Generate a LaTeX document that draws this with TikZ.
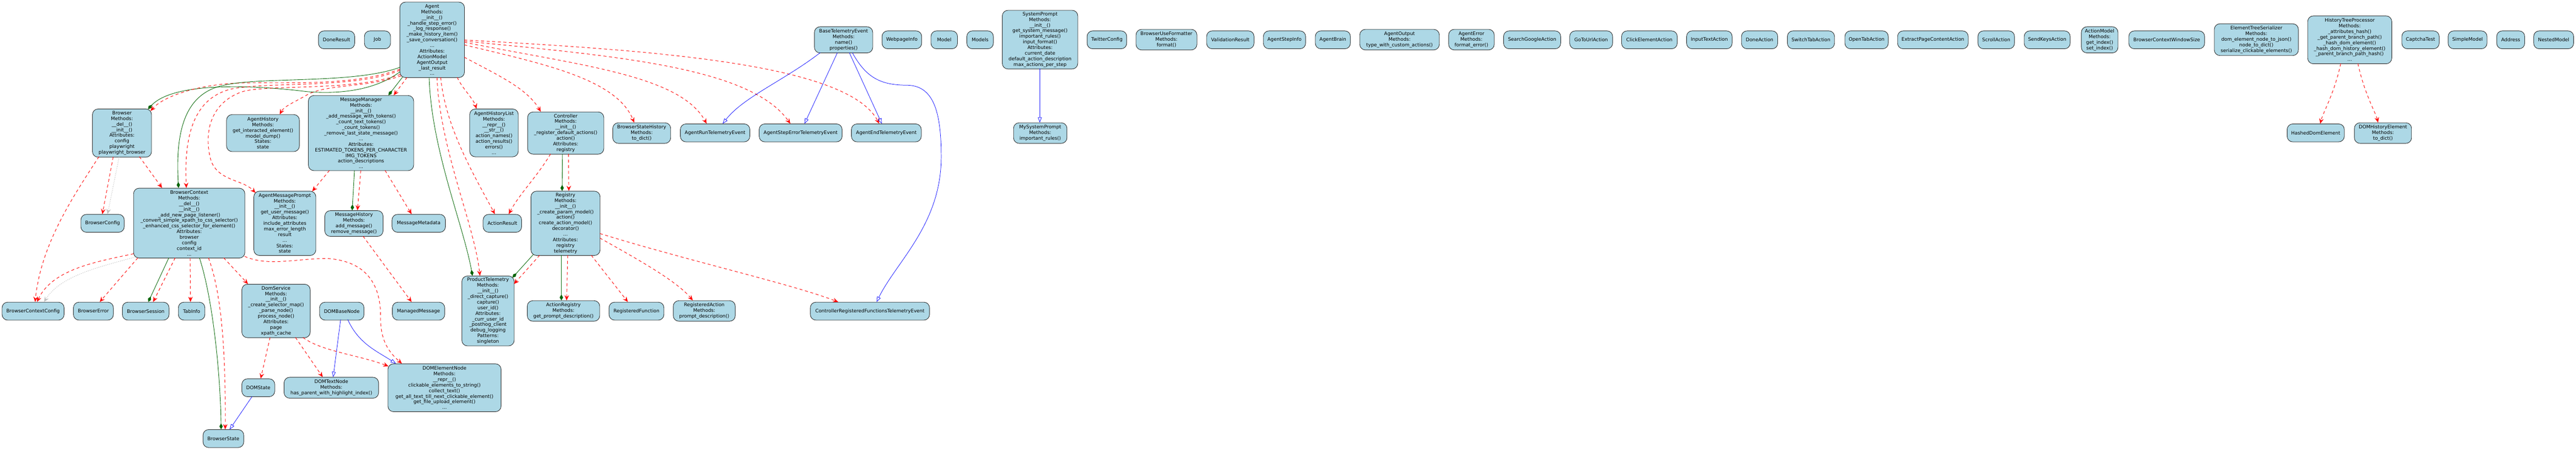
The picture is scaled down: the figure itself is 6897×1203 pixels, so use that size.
\documentclass[tikz,border=0pt]{standalone}
\usepackage{fontspec}
\setmainfont{DejaVu Sans}
\usetikzlibrary{arrows.meta,calc}
\definecolor{lb}{HTML}{ADD8E6}
\definecolor{dkg}{HTML}{006400}
\definecolor{sil}{HTML}{C0C0C0}
\tikzset{
  cls/.style={draw=black!85, line width=1.2pt, fill=lb, rounded corners=15pt, align=center,
    inner sep=0pt, anchor=north west, font=\fontsize{12.8}{15}\selectfont},
  dep/.style={draw=red, line width=1.3pt, dash pattern=on 8pt off 7pt,
    -{Stealth[length=14pt,width=12pt,inset=5pt]}},
  gdep/.style={draw=sil, line width=1.3pt, dash pattern=on 2pt off 3pt,
    -{Stealth[length=14pt,width=12pt,inset=5pt]}},
  comp/.style={draw=dkg, line width=1.2pt, -{Diamond[length=16pt,width=9pt]}},
  inh/.style={draw=blue, line width=1pt, -{Triangle[open,length=14pt,width=10pt]}},
}
\begin{document}
\begin{tikzpicture}[x=1pt,y=-1pt]
\fill[white] (0,0) rectangle (6897,1203);
\useasboundingbox (0,0) rectangle (6897,1203);
% ---------- row 1 ----------
\node[cls, minimum width=97pt, minimum height=48pt] (doneresult) at (852,82) {DoneResult};
\node[cls, minimum width=70pt, minimum height=48pt] (job) at (975,82) {Job};
\node[cls, minimum width=173pt, minimum height=202pt] (agent) at (1070,5) {Agent\\Methods:\\\_\_init\_\_()\\\_handle\_step\_error()\\\_log\_response()\\\_make\_history\_item()\\\_save\_conversation()\\...\\Attributes:\\ActionModel\\AgentOutput\\\_last\_result\\...};
\node[cls, minimum width=156pt, minimum height=70pt] (bte) at (2180,71) {BaseTelemetryEvent\\Methods:\\name()\\properties()};
\node[cls, minimum width=106pt, minimum height=48pt] (webpageinfo) at (2361,82) {WebpageInfo};
\node[cls, minimum width=71pt, minimum height=48pt] (model) at (2492,82) {Model};
\node[cls, minimum width=71pt, minimum height=48pt] (models) at (2588,82) {Models};
\node[cls, minimum width=202pt, minimum height=157pt] (sp) at (2683,27) {SystemPrompt\\Methods:\\\_\_init\_\_()\\get\_system\_message()\\important\_rules()\\input\_format()\\Attributes:\\current\_date\\default\_action\_description\\max\_actions\_per\_step};
\node[cls, minimum width=106pt, minimum height=48pt] (twitter) at (2910,82) {TwitterConfig};
\node[cls, minimum width=163pt, minimum height=55pt] (buf) at (3041,78) {BrowserUseFormatter\\Methods:\\format()};
\node[cls, minimum width=127pt, minimum height=48pt] (valres) at (3230,82) {ValidationResult};
\node[cls, minimum width=113pt, minimum height=48pt] (stepinfo) at (3382,82) {AgentStepInfo};
\node[cls, minimum width=94pt, minimum height=48pt] (brain) at (3521,82) {AgentBrain};
\node[cls, minimum width=213pt, minimum height=55pt] (aout) at (3640,78) {AgentOutput\\Methods:\\type\_with\_custom\_actions()};
\node[cls, minimum width=122pt, minimum height=55pt] (aerr) at (3878,78) {AgentError\\Methods:\\format\_error()};
\node[cls, minimum width=153pt, minimum height=48pt] (sga) at (4025,82) {SearchGoogleAction};
\node[cls, minimum width=115pt, minimum height=48pt] (gtu) at (4202,82) {GoToUrlAction};
\node[cls, minimum width=149pt, minimum height=48pt] (cea) at (4341,82) {ClickElementAction};
\node[cls, minimum width=122pt, minimum height=48pt] (ita) at (4515,82) {InputTextAction};
\node[cls, minimum width=97pt, minimum height=48pt] (donea) at (4662,82) {DoneAction};
\node[cls, minimum width=126pt, minimum height=48pt] (sta) at (4785,82) {SwitchTabAction};
\node[cls, minimum width=116pt, minimum height=48pt] (ota) at (4939,82) {OpenTabAction};
\node[cls, minimum width=189pt, minimum height=48pt] (epca) at (5080,82) {ExtractPageContentAction};
\node[cls, minimum width=98pt, minimum height=48pt] (scra) at (5295,82) {ScrollAction};
\node[cls, minimum width=123pt, minimum height=48pt] (ska) at (5419,82) {SendKeysAction};
\node[cls, minimum width=98pt, minimum height=70pt] (amodel) at (5572,71) {ActionModel\\Methods:\\get\_index()\\set\_index()};
\node[cls, minimum width=203pt, minimum height=48pt] (bcws) at (5699,82) {BrowserContextWindowSize};
\node[cls, minimum width=225pt, minimum height=85pt] (ets) at (5928,63) {ElementTreeSerializer\\Methods:\\dom\_element\_node\_to\_json()\\node\_to\_dict()\\serialize\_clickable\_elements()};
\node[cls, minimum width=225pt, minimum height=128pt] (htp) at (6178,42) {HistoryTreeProcessor\\Methods:\\\_attributes\_hash()\\\_get\_parent\_branch\_path()\\\_hash\_dom\_element()\\\_hash\_dom\_history\_element()\\\_parent\_branch\_path\_hash()\\...};
\node[cls, minimum width=100pt, minimum height=48pt] (captcha) at (6430,82) {CaptchaTest};
\node[cls, minimum width=104pt, minimum height=48pt] (simple) at (6554,82) {SimpleModel};
\node[cls, minimum width=75pt, minimum height=48pt] (address) at (6684,82) {Address};
\node[cls, minimum width=107pt, minimum height=48pt] (nested) at (6783,82) {NestedModel};
% ---------- row 2 ----------
\node[cls, minimum width=158pt, minimum height=129pt] (browser) at (247,291) {Browser\\Methods:\\\_\_del\_\_()\\\_\_init\_\_()\\Attributes:\\config\\playwright\\playwright\_browser};
\node[cls, minimum width=195pt, minimum height=99pt] (ahist) at (606,306) {AgentHistory\\Methods:\\get\_interacted\_element()\\model\_dump()\\States:\\state};
\node[cls, minimum width=282pt, minimum height=201pt] (mm) at (825,255) {MessageManager\\Methods:\\\_\_init\_\_()\\\_add\_message\_with\_tokens()\\\_count\_text\_tokens()\\\_count\_tokens()\\\_remove\_last\_state\_message()\\...\\Attributes:\\ESTIMATED\_TOKENS\_PER\_CHARACTER\\IMG\_TOKENS\\action\_descriptions\\...};
\node[cls, minimum width=130pt, minimum height=128pt] (ahl) at (1257,291) {AgentHistoryList\\Methods:\\\_\_repr\_\_()\\\_\_str\_\_()\\action\_names()\\action\_results()\\errors()\\...};
\node[cls, minimum width=204pt, minimum height=113pt] (ctrl) at (1412,299) {Controller\\Methods:\\\_\_init\_\_()\\\_register\_default\_actions()\\action()\\Attributes:\\registry};
\node[cls, minimum width=155pt, minimum height=55pt] (bsh) at (1640,328) {BrowserStateHistory\\Methods:\\to\_dict()};
\node[cls, minimum width=186pt, minimum height=48pt] (arte) at (1821,331) {AgentRunTelemetryEvent};
\node[cls, minimum width=222pt, minimum height=48pt] (asete) at (2032,331) {AgentStepErrorTelemetryEvent};
\node[cls, minimum width=187pt, minimum height=48pt] (aete) at (2279,331) {AgentEndTelemetryEvent};
\node[cls, minimum width=143pt, minimum height=55pt] (mysp) at (2713,328) {MySystemPrompt\\Methods:\\important\_rules()};
\node[cls, minimum width=153pt, minimum height=48pt] (hde) at (6123,331) {HashedDomElement};
\node[cls, minimum width=153pt, minimum height=55pt] (dhe) at (6303,328) {DOMHistoryElement\\Methods:\\to\_dict()};
% ---------- row 3 ----------
\node[cls, minimum width=116pt, minimum height=48pt] (bconfig) at (216,573) {BrowserConfig};
\node[cls, minimum width=298pt, minimum height=187pt] (bc) at (357,503) {BrowserContext\\Methods:\\\_\_del\_\_()\\\_\_init\_\_()\\\_add\_new\_page\_listener()\\\_convert\_simple\_xpath\_to\_css\_selector()\\\_enhanced\_css\_selector\_for\_element()\\Attributes:\\browser\\config\\context\_id\\...};
\node[cls, minimum width=166pt, minimum height=172pt] (amp) at (679,511) {AgentMessagePrompt\\Methods:\\\_\_init\_\_()\\get\_user\_message()\\Attributes:\\include\_attributes\\max\_error\_length\\result\\...\\States:\\state};
\node[cls, minimum width=156pt, minimum height=69pt] (mh) at (869,563) {MessageHistory\\Methods:\\add\_message()\\remove\_message()};
\node[cls, minimum width=143pt, minimum height=48pt] (mmeta) at (1049,573) {MessageMetadata};
\node[cls, minimum width=103pt, minimum height=48pt] (ares) at (1293,573) {ActionResult};
\node[cls, minimum width=185pt, minimum height=172pt] (reg) at (1421,511) {Registry\\Methods:\\\_\_init\_\_()\\\_create\_param\_model()\\action()\\create\_action\_model()\\decorator()\\...\\Attributes:\\registry\\telemetry};
% ---------- row 4 ----------
\node[cls, minimum width=166pt, minimum height=48pt] (bcc) at (5,808) {BrowserContextConfig};
\node[cls, minimum width=107pt, minimum height=48pt] (berr) at (196,808) {BrowserError};
\node[cls, minimum width=125pt, minimum height=48pt] (bsess) at (327,808) {BrowserSession};
\node[cls, minimum width=71pt, minimum height=48pt] (tab) at (477,808) {TabInfo};
\node[cls, minimum width=183pt, minimum height=143pt] (ds) at (647,760) {DomService\\Methods:\\\_\_init\_\_()\\\_create\_selector\_map()\\\_parse\_node()\\process\_node()\\Attributes:\\page\\xpath\_cache};
\node[cls, minimum width=119pt, minimum height=48pt] (dbn) at (855,808) {DOMBaseNode};
\node[cls, minimum width=140pt, minimum height=48pt] (mmsg) at (1050,808) {ManagedMessage};
\node[cls, minimum width=140pt, minimum height=187pt] (pt) at (1236,738) {ProductTelemetry\\Methods:\\\_\_init\_\_()\\\_direct\_capture()\\capture()\\user\_id()\\Attributes:\\\_curr\_user\_id\\\_posthog\_client\\debug\_logging\\Patterns:\\singleton};
\node[cls, minimum width=194pt, minimum height=55pt] (areg) at (1411,804) {ActionRegistry\\Methods:\\get\_prompt\_description()};
\node[cls, minimum width=147pt, minimum height=48pt] (rf) at (1630,808) {RegisteredFunction};
\node[cls, minimum width=166pt, minimum height=55pt] (ra) at (1802,804) {RegisteredAction\\Methods:\\prompt\_description()};
\node[cls, minimum width=319pt, minimum height=48pt] (crfte) at (2169,808) {ControllerRegisteredFunctionsTelemetryEvent};
% ---------- row 5/6 ----------
\node[cls, minimum width=88pt, minimum height=48pt] (domstate) at (647,1013) {DOMState};
\node[cls, minimum width=253pt, minimum height=56pt] (dtn) at (760,1009) {DOMTextNode\\Methods:\\has\_parent\_with\_highlight\_index()};
\node[cls, minimum width=303pt, minimum height=128pt] (den) at (1038,973) {DOMElementNode\\Methods:\\\_\_repr\_\_()\\clickable\_elements\_to\_string()\\collect\_text()\\get\_all\_text\_till\_next\_clickable\_element()\\get\_file\_upload\_element()\\...};
\node[cls, minimum width=109pt, minimum height=48pt] (bstate) at (543,1149) {BrowserState};
% ---------- edges: Agent ----------
\draw[comp] ($(agent.north west)+(1,187)$) .. controls (1000,245) and (900,252) .. (820,245) .. controls (700,230) and (470,215) .. ($(browser.north west)+(149,1)$);
\draw[dep] ($(agent.north west)+(1,180)$) .. controls (950,230) and (780,220) .. (650,222) .. controls (540,224) and (440,255) .. ($(browser.north west)+(156,6)$);
\draw[comp] ($(agent.north west)+(1,175)$) .. controls (950,225) and (700,205) .. (600,228) .. controls (490,250) and (470,360) .. ($(bc.north west)+(121,0)$);
\draw[dep] ($(agent.north west)+(1,183)$) .. controls (950,238) and (720,218) .. (620,238) .. controls (520,262) and (492,360) .. ($(bc.north west)+(142,0)$);
\draw[dep] ($(agent.north west)+(2,194)$) .. controls (950,245) and (720,225) .. (650,245) .. controls (560,275) and (545,360) .. (565,430) .. controls (585,485) and (650,480) .. ($(amp.north west)+(5,5)$);
\draw[dep] ($(agent.north west)+(4,198)$) .. controls (980,235) and (870,225) .. (820,255) .. controls (785,275) and (760,285) .. ($(ahist.north west)+(143,0)$);
\draw[comp] ($(agent.north west)+(8,201)$) -- ($(mm.north west)+(215,0)$);
\draw[dep] ($(agent.north west)+(20,202)$) -- ($(mm.north west)+(229,0)$);
\draw[comp] ($(agent.north west)+(79,202)$) .. controls (1155,400) and (1240,600) .. ($(pt.north west)+(29,0)$);
\draw[dep] ($(agent.north west)+(100,202)$) .. controls (1178,400) and (1270,600) .. ($(pt.north west)+(49,0)$);
\draw[dep] ($(agent.north west)+(110,202)$) .. controls (1192,340) and (1270,470) .. ($(ares.north west)+(32,0)$);
\draw[dep] ($(agent.north west)+(154,202)$) .. controls (1240,240) and (1266,262) .. ($(ahl.north west)+(19,0)$);
\draw[dep] ($(agent.north west)+(173,148)$) .. controls (1330,200) and (1410,235) .. ($(ctrl.north west)+(36,0)$);
\draw[dep] ($(agent.north west)+(173,115)$) .. controls (1450,170) and (1650,210) .. ($(bsh.north west)+(58,0)$);
\draw[dep] ($(agent.north west)+(173,108)$) .. controls (1550,175) and (1820,200) .. ($(arte.north west)+(71,0)$);
\draw[dep] ($(agent.north west)+(173,105)$) .. controls (1650,150) and (2010,180) .. ($(asete.north west)+(84,0)$);
\draw[dep] ($(agent.north west)+(173,102)$) .. controls (1750,135) and (2270,170) .. ($(aete.north west)+(75,0)$);
% ---------- Controller / Registry ----------
\draw[comp] ($(ctrl.north west)+(94,113)$) -- ($(reg.north west)+(84,0)$);
\draw[dep] ($(ctrl.north west)+(110,113)$) -- ($(reg.north west)+(102,0)$);
\draw[dep] ($(ctrl.north west)+(62,113)$) .. controls (1440,470) and (1390,520) .. ($(ares.north west)+(69,0)$);
\draw[comp] ($(reg.north west)+(7,170)$) -- ($(pt.north west)+(136,5)$);
\draw[dep] ($(reg.north west)+(24,172)$) -- ($(pt.north west)+(140,22)$);
\draw[comp] ($(reg.north west)+(82,172)$) -- ($(areg.north west)+(92,0)$);
\draw[dep] ($(reg.north west)+(99,172)$) -- ($(areg.north west)+(106,0)$);
\draw[dep] ($(reg.north west)+(162,172)$) -- ($(rf.north west)+(51,0)$);
\draw[dep] ($(reg.north west)+(185,126)$) .. controls (1700,690) and (1810,750) .. ($(ra.north west)+(53,0)$);
\draw[dep] ($(reg.north west)+(185,114)$) .. controls (1850,700) and (2120,760) .. ($(crfte.north west)+(75,0)$);
% ---------- inheritance ----------
\draw[inh] ($(bte.north west)+(16,70)$) .. controls (2100,215) and (1990,260) .. ($(arte.north west)+(114,0)$);
\draw[inh] ($(bte.north west)+(62,70)$) -- ($(asete.north west)+(122,0)$);
\draw[inh] ($(bte.north west)+(94,70)$) -- ($(aete.north west)+(82,0)$);
\draw[inh] ($(bte.north west)+(102,70)$) .. controls (2320,210) and (2360,228) .. (2430,228) .. controls (2500,230) and (2520,300) .. (2520,420) .. controls (2520,600) and (2400,700) .. ($(crfte.north west)+(178,0)$);
\draw[inh] ($(sp.north west)+(101,157)$) -- ($(mysp.north west)+(71,0)$);
\draw[dep] ($(htp.north west)+(89,128)$) .. controls (6250,250) and (6220,300) .. ($(hde.north west)+(89,0)$);
\draw[dep] ($(htp.north west)+(135,128)$) .. controls (6330,250) and (6360,300) .. ($(dhe.north west)+(64,0)$);
% ---------- MessageManager ----------
\draw[comp] ($(mm.north west)+(124,201)$) -- ($(mh.north west)+(74,0)$);
\draw[dep] ($(mm.north west)+(141,201)$) -- ($(mh.north west)+(88,0)$);
\draw[dep] ($(mm.north west)+(206,201)$) -- ($(mmeta.north west)+(53,0)$);
\draw[dep] ($(mm.north west)+(57,201)$) -- ($(amp.north west)+(157,1)$);
\draw[dep] ($(mh.north west)+(103,69)$) -- ($(mmsg.north west)+(52,0)$);
% ---------- Browser ----------
\draw[dep] ($(browser.north west)+(18,128)$) .. controls (200,520) and (110,650) .. ($(bcc.north west)+(89,0)$);
\draw[dep] ($(browser.north west)+(56,129)$) -- ($(bconfig.north west)+(58,0)$);
\draw[gdep] ($(browser.north west)+(72,129)$) -- ($(bconfig.north west)+(72,0)$);
\draw[dep] ($(browser.north west)+(126,128)$) -- ($(bc.north west)+(77,0)$);
% ---------- BrowserContext ----------
\draw[dep] ($(bc.north west)+(1,176)$) .. controls (260,700) and (140,720) .. ($(bcc.north west)+(94,0)$);
\draw[gdep] ($(bc.north west)+(5,185)$) .. controls (260,715) and (160,740) .. ($(bcc.north west)+(113,0)$);
\draw[dep] ($(bc.north west)+(12,187)$) -- ($(berr.north west)+(71,0)$);
\draw[comp] ($(bc.north west)+(95,187)$) -- ($(bsess.north west)+(70,0)$);
\draw[dep] ($(bc.north west)+(112,187)$) -- ($(bsess.north west)+(83,0)$);
\draw[dep] ($(bc.north west)+(152,187)$) -- ($(tab.north west)+(33,0)$);
\draw[comp] ($(bc.north west)+(177,187)$) .. controls (570,800) and (590,1000) .. ($(bstate.north west)+(49,0)$);
\draw[dep] ($(bc.north west)+(201,187)$) .. controls (600,800) and (604,1000) .. ($(bstate.north west)+(60,0)$);
\draw[dep] ($(bc.north west)+(242,187)$) -- ($(ds.north west)+(17,0)$);
\draw[dep] ($(bc.north west)+(298,183)$) .. controls (720,715) and (800,690) .. (880,692) .. controls (980,700) and (1020,760) .. (1019,850) .. controls (1018,920) and (1050,950) .. ($(den.north west)+(38,0)$);
% ---------- DomService / DOM ----------
\draw[dep] ($(ds.north west)+(76,143)$) -- ($(domstate.north west)+(51,0)$);
\draw[dep] ($(ds.north west)+(144,143)$) -- ($(dtn.north west)+(104,0)$);
\draw[dep] ($(ds.north west)+(164,143)$) .. controls (860,940) and (960,950) .. ($(den.north west)+(2,7)$);
\draw[inh] ($(dbn.north west)+(57,47)$) -- ($(dtn.north west)+(132,0)$);
\draw[inh] ($(dbn.north west)+(76,47)$) .. controls (960,920) and (1010,940) .. ($(den.north west)+(22,0)$);
\draw[inh] ($(domstate.north west)+(28,48)$) -- ($(bstate.north west)+(72,0)$);
\end{tikzpicture}
\end{document}
